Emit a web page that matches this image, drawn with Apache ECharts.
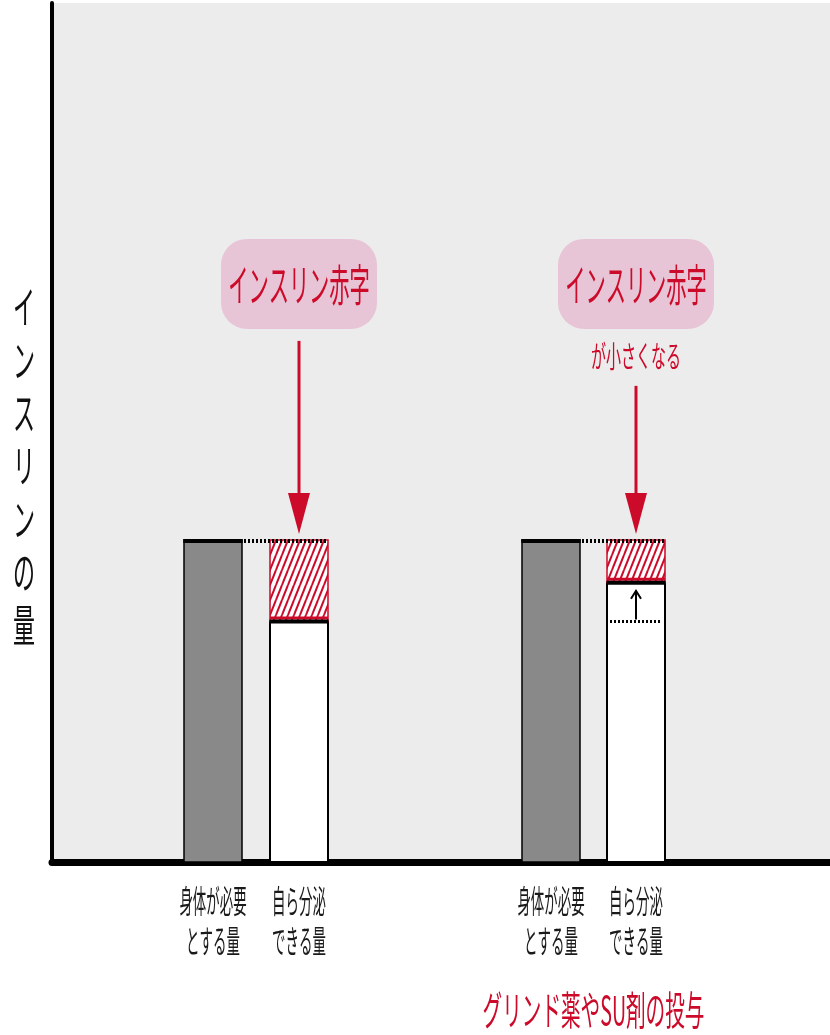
<!DOCTYPE html>
<html><head><meta charset="utf-8">
<script src="https://cdn.jsdelivr.net/npm/echarts@6/dist/echarts.min.js"></script>
<style>html,body{margin:0;padding:0;background:#fff}#c{width:830px;height:1035px}</style>
</head><body><div id="c"></div>
<script>
// ---- data ----
const barLabels = ['身体が必要\nとする量', '自ら分泌\nできる量'];
const calloutTitle = 'インスリン赤字';
const calloutNotes = ['', 'が小さくなる'];
const groupNames = ['', 'グリンド薬やSU剤の投与'];
const requiredAmount = [37.5, 37.5];   // 身体が必要とする量
const secretedAmount = [28, 32.5];     // 自ら分泌できる量
const previousSecreted = [null, 28];   // level before treatment
const yAxisTitle = 'インスリンの量';

// ---- layout (axis units on the x value axis) ----
const needX = [161, 499];
const secX = [247, 584];
const barW = 58;
const RED = '#cc0a2a';
const FONT = '"Noto Sans CJK JP", sans-serif';

// hatch pattern
const pc = document.createElement('canvas');
pc.width = 6; pc.height = 15;
const g = pc.getContext('2d');
g.fillStyle = '#fff'; g.fillRect(0, 0, 6, 15);
g.strokeStyle = RED; g.lineWidth = 2;
for (const o of [-6, 0, 6]) { g.beginPath(); g.moveTo(o, 15); g.lineTo(o + 6, 0); g.stroke(); }
const hatch = { image: pc, repeat: 'repeat' };

const chart = echarts.init(document.getElementById('c'), null, { renderer: 'canvas' });

function condText(x, y, text, size, color, sx, extra) {
  return Object.assign({
    type: 'text', x: x, y: y, scaleX: sx, z2: 50,
    style: Object.assign({ text: text, fontSize: size, fontFamily: FONT, fill: color,
      align: 'center', verticalAlign: 'middle' }, extra || {})
  });
}

const option = {
  animation: false,
  grid: { left: 52, right: 0, top: 3, bottom: 173, show: true, backgroundColor: '#ececec', borderWidth: 0 },
  xAxis: { type: 'value', min: 0, max: 778, axisLine: { show: true, onZero: false, lineStyle: { color: '#000', width: 7 } },
    axisTick: { show: false }, axisLabel: { show: false }, splitLine: { show: false } },
  yAxis: { type: 'value', min: 0, max: 100, axisLine: { show: true, lineStyle: { color: '#000', width: 4 } },
    axisTick: { show: false }, axisLabel: { show: false }, splitLine: { show: false } },
  graphic: [{
    type: 'text', x: 24, y: 466, scaleX: 0.5,
    style: { text: yAxisTitle.split('').join('\n'), fontSize: 44, lineHeight: 53, fontFamily: FONT,
      fill: '#111', align: 'center', verticalAlign: 'middle' }
  }],
  series: [
    { // required amount bars
      type: 'custom', z: 2,
      data: requiredAmount.map((v, i) => [needX[i], v]),
      renderItem: function (params, api) {
        const x = api.value(0), v = api.value(1);
        const w = api.size([barW, 0])[0];
        const p = api.coord([x, v]), b = api.coord([x, 0]);
        return { type: 'group', children: [
          { type: 'rect', shape: { x: p[0] - w / 2, y: p[1], width: w, height: b[1] - p[1] },
            style: { fill: '#898989', stroke: '#000', lineWidth: 1.5 } },
          { type: 'line', shape: { x1: p[0] - w / 2 - 0.7, y1: p[1] + 1, x2: p[0] + w / 2 + 0.7, y2: p[1] + 1 },
            style: { stroke: '#000', lineWidth: 4 } },
          condText(p[0], b[1] + 59, barLabels[0], 32, '#1a1a1a', 0.42, { lineHeight: 40 })
        ] };
      }
    },
    { // secreted bars + deficit hatch
      type: 'custom', z: 3,
      data: secretedAmount.map((v, i) => [secX[i], v, requiredAmount[i], previousSecreted[i] == null ? -1 : previousSecreted[i], needX[i]]),
      renderItem: function (params, api) {
        const x = api.value(0), s = api.value(1), r = api.value(2), pr = api.value(3), nx = api.value(4);
        const w = api.size([barW, 0])[0];
        const ps = api.coord([x, s]), pr2 = api.coord([x, r]), b = api.coord([x, 0]);
        const nEdge = api.coord([nx, r])[0] + w / 2;
        const L = ps[0] - w / 2, R = ps[0] + w / 2;
        const ch = [
          { type: 'rect', shape: { x: L, y: ps[1], width: w, height: b[1] - ps[1] },
            style: { fill: '#fff', stroke: '#000', lineWidth: 2 } },
          { type: 'rect', shape: { x: L, y: pr2[1], width: w, height: ps[1] - pr2[1] },
            style: { fill: hatch, stroke: RED, lineWidth: 1.5 } },
          { type: 'line', shape: { x1: L, y1: ps[1] - 3.5, x2: R, y2: ps[1] - 3.5 }, style: { stroke: RED, lineWidth: 3 } },
          { type: 'line', shape: { x1: L - 0.5, y1: ps[1], x2: R + 0.5, y2: ps[1] }, style: { stroke: '#000', lineWidth: 4 } },
          { type: 'line', shape: { x1: nEdge + 2, y1: pr2[1] + 1, x2: R, y2: pr2[1] + 1 },
            style: { stroke: '#000', lineWidth: 4, lineDash: [2, 2] } },
          condText(ps[0], b[1] + 59, barLabels[1], 32, '#1a1a1a', 0.42, { lineHeight: 40 })
        ];
        if (pr >= 0) {
          const pp = api.coord([x, pr]);
          ch.push({ type: 'line', shape: { x1: L + 3, y1: pp[1], x2: R - 3, y2: pp[1] },
            style: { stroke: '#000', lineWidth: 3, lineDash: [2, 2] } });
          ch.push({ type: 'line', shape: { x1: ps[0], y1: pp[1] - 2, x2: ps[0], y2: ps[1] + 8 },
            style: { stroke: '#000', lineWidth: 2 } });
          ch.push({ type: 'polyline', shape: { points: [[ps[0] - 5, ps[1] + 16], [ps[0], ps[1] + 8], [ps[0] + 5, ps[1] + 16]] },
            style: { stroke: '#000', lineWidth: 2, fill: null } });
        }
        return { type: 'group', children: ch };
      }
    },
    { // callouts
      type: 'custom', z: 4,
      data: requiredAmount.map((v, i) => [secX[i], v, i]),
      renderItem: function (params, api) {
        const x = api.value(0), v = api.value(1), i = api.value(2);
        const p = api.coord([x, v]);
        const b = api.coord([x, 0]);
        const tip = p[1] - 6;
        const hasNote = !!calloutNotes[i];
        const lineTop = hasNote ? tip - 148 : tip - 193;
        const boxTop = tip - 295;
        const ch = [
          { type: 'rect', shape: { x: p[0] - 78, y: boxTop, width: 156, height: 90, r: 26 },
            style: { fill: '#e8c5d6' } },
          condText(p[0], boxTop + 46, calloutTitle, 44, RED, 0.46),
          { type: 'line', shape: { x1: p[0], y1: lineTop, x2: p[0], y2: tip - 38 }, style: { stroke: RED, lineWidth: 3 } },
          { type: 'polygon', shape: { points: [[p[0] - 11, tip - 41], [p[0] + 11, tip - 41], [p[0], tip]] }, style: { fill: RED } }
        ];
        if (hasNote) ch.push(condText(p[0], boxTop + 117, calloutNotes[i], 30, RED, 0.5));
        if (groupNames[i]) {
          const gx = api.coord([(x + needX[i]) / 2, 0])[0];
          ch.push(condText(gx, b[1] + 148, groupNames[i], 40, RED, 0.49));
        }
        return { type: 'group', children: ch };
      }
    }
  ]
};
chart.setOption(option);
</script>
</body></html>
